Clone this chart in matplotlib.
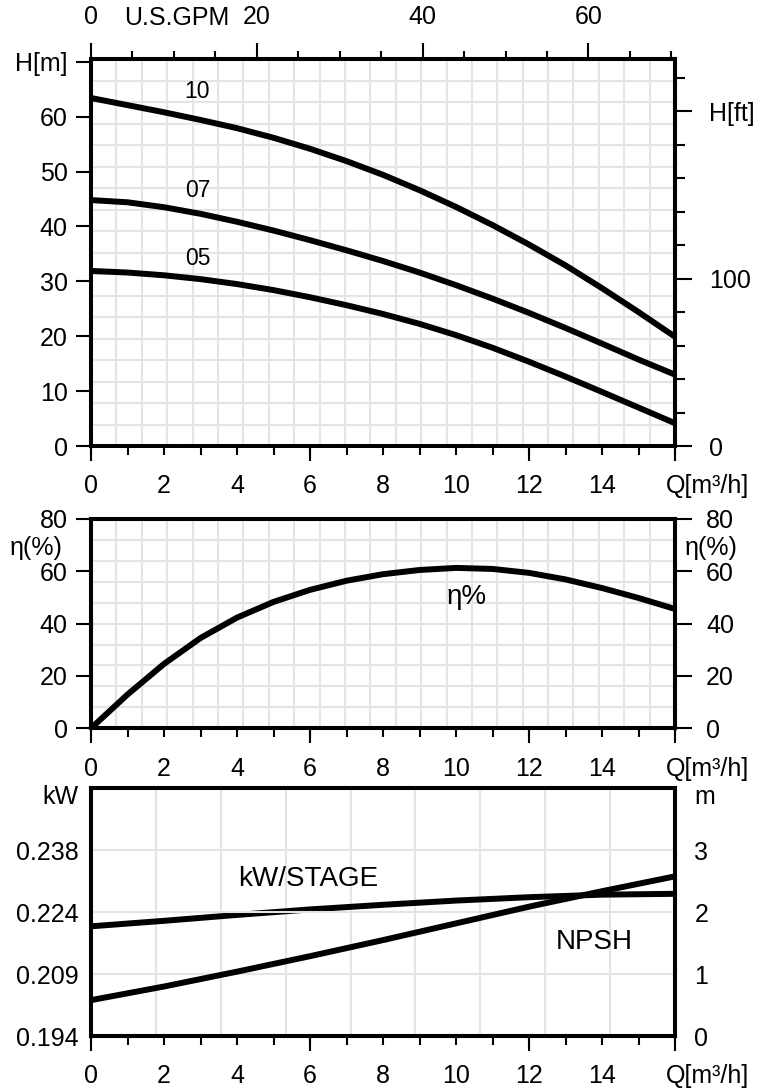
import matplotlib
matplotlib.use("Agg")
from matplotlib import pyplot
from matplotlib.transforms import ScaledTranslation, blended_transform_factory
import numpy as np

pyplot.rcParams['font.family'] = ['Liberation Sans', 'DejaVu Sans']
pyplot.rcParams['font.size'] = 18

# flow rate Q [m3/h]
q = [0, 1, 2, 3, 4, 5, 6, 7, 8, 9, 10, 11, 12, 13, 14, 15, 16]
# head curves H [m] for 10 / 07 / 05 stages
head_10 = [63.4, 62.1, 60.8, 59.4, 57.9, 56.15, 54.15, 51.9, 49.4, 46.6, 43.55, 40.25, 36.7, 32.9, 28.75, 24.4, 19.9]
head_07 = [44.8, 44.4, 43.5, 42.3, 40.85, 39.25, 37.5, 35.65, 33.7, 31.6, 29.3, 26.85, 24.25, 21.5, 18.65, 15.75, 13.0]
head_05 = [31.9, 31.6, 31.1, 30.4, 29.5, 28.4, 27.1, 25.65, 24.05, 22.25, 20.2, 17.9, 15.35, 12.65, 9.85, 7.0, 4.15]
# efficiency [%]
eff = [0, 12.9, 24.6, 34.5, 42.3, 48.3, 52.9, 56.4, 58.9, 60.5, 61.3, 60.9, 59.4, 56.9, 53.6, 49.8, 45.6]
# power per stage [kW] and NPSH [m]
q_low = [0, 2, 4, 6, 8, 10, 12, 14, 16]
power_kw = [0.2200, 0.2213, 0.2227, 0.2240, 0.2251, 0.2261, 0.2269, 0.2275, 0.2277]
npsh_m = [0.58, 0.80, 1.04, 1.29, 1.55, 1.82, 2.09, 2.34, 2.58]

kw_ticklabels = ["0.194", "0.209", "0.224", "0.238"]
kw_base = 0.194
kw_step = 0.014667
GPM_PER_M3H = 1 / 0.22712
FT_PER_M = 1 / 0.3048

q_label = "Q[m³/h]"
grid_color = "#e4e4e4"
line_w = 4.3
spine_w = 2.9
px = 0.72  # points per pixel at dpi 100


def curve(ax, x, y):
    ax.plot(x, y, color="black", lw=line_w, solid_capstyle="butt", solid_joinstyle="round")


def style_spines(ax):
    for s in ax.spines.values():
        s.set_linewidth(spine_w)


def q_axis(ax, pad):
    ax.set_xlim(0, 16)
    ax.set_xticks(q)
    ax.set_xticklabels([str(v) if v % 2 == 0 and v < 16 else "" for v in q[:-1]] + [q_label])
    ax.set_xticks([0, 6, 12, 16], minor=True)
    ax.xaxis.remove_overlapping_locs = False
    ax.tick_params(axis="x", which="major", length=9 * px, width=1.5, pad=pad)
    ax.tick_params(axis="x", which="minor", length=15 * px, width=1.5)
    lab = ax.get_xticklabels()[-1]
    lab.set_transform(lab.get_transform() + ScaledTranslation(0.32, 0, ax.figure.dpi_scale_trans))


def draw_grid(ax, nx, ny, ylim):
    for x in np.linspace(0, 16, nx + 1)[1:-1]:
        ax.axvline(x, color=grid_color, lw=1.5, zorder=0)
    for y in np.linspace(ylim[0], ylim[1], ny + 1)[1:-1]:
        ax.axhline(y, color=grid_color, lw=1.5, zorder=0)


fig = pyplot.figure(figsize=(7.65, 10.91), dpi=100)

# ---- head ----
h_top = 70.5
ax1 = fig.add_axes([0.119, 0.5912, 0.7634, 0.3547])
curve(ax1, q, head_10)
curve(ax1, q, head_07)
curve(ax1, q, head_05)
ax1.set_ylim(0, h_top)
draw_grid(ax1, 23, 18, (0, h_top))
ax1.set_yticks([0, 10, 20, 30, 40, 50, 60, 70])
ax1.set_yticklabels(["0", "10", "20", "30", "40", "50", "60", "H[m]"])
ax1.tick_params(axis="y", length=15 * px, width=1.5, pad=6)
q_axis(ax1, pad=14)
ax1.text(2.9, 64.6, "10", ha="center", va="center", fontsize=16.5)
ax1.text(2.93, 46.6, "07", ha="center", va="center", fontsize=16.5)
ax1.text(2.93, 34.1, "05", ha="center", va="center", fontsize=16.5)
style_spines(ax1)

gpm = ax1.secondary_xaxis("top", functions=(lambda v: v * GPM_PER_M3H, lambda v: v / GPM_PER_M3H))
gpm.set_xticks([0, 20, 40, 60])
gpm.set_xticks(np.arange(0, 71, 5), minor=True)
gpm.tick_params(which="major", length=16 * px, width=1.5, pad=10)
gpm.tick_params(which="minor", length=8 * px, width=1.5)
gpm.spines["top"].set_linewidth(spine_w)
ax1.annotate("U.S.GPM", xy=(10.4 / GPM_PER_M3H, 1), xycoords=("data", "axes fraction"),
             xytext=(0, 41 * px), textcoords="offset points", ha="center", va="center")

ft = ax1.secondary_yaxis("right", functions=(lambda v: v * FT_PER_M, lambda v: v / FT_PER_M))
ft.set_yticks([0, 100, 200])
ft.set_yticklabels(["0", "100", "H[ft]"])
ft.set_yticks(np.arange(0, 221, 20), minor=True)
ft.tick_params(which="major", length=17 * px, width=1.5, pad=12)
ft.tick_params(which="minor", length=10 * px, width=1.5)
ft.spines["right"].set_linewidth(spine_w)

# ---- efficiency ----
ax2 = fig.add_axes([0.119, 0.3325, 0.7634, 0.1918])
curve(ax2, q, eff)
ax2.set_ylim(0, 80)
draw_grid(ax2, 23, 10, (0, 80))
ax2.set_yticks([0, 20, 40, 60, 80])
ax2.tick_params(axis="y", length=15 * px, width=1.5, pad=6)
q_axis(ax2, pad=14)
tr = blended_transform_factory(ax2.transAxes, ax2.transData)
ax2.text(-0.048, 69, "η(%)", transform=tr, ha="right", va="center")
ax2.text(1.017, 69, "η(%)", transform=tr, ha="left", va="center")
ax2.text(10.3, 50.2, "η%", ha="center", va="center", fontsize=20)
style_spines(ax2)
ax2r = ax2.twinx()
ax2r.set_ylim(0, 80)
ax2r.set_yticks([0, 20, 40, 60, 80])
ax2r.tick_params(axis="y", length=17 * px, width=1.5, pad=10)
style_spines(ax2r)

# ---- power / NPSH ----
ax3 = fig.add_axes([0.119, 0.0504, 0.7634, 0.2269])
curve(ax3, q_low, power_kw)
ax3.set_ylim(kw_base, kw_base + 4 * kw_step)
ax3.set_yticks([kw_base + i * kw_step for i in range(4)] + [kw_base + 3.9 * kw_step])
ax3.set_yticklabels(kw_ticklabels + ["kW"])
ax3.tick_params(axis="y", length=0, pad=9)
for x in np.linspace(0, 16, 10)[1:-1]:
    ax3.axvline(x, color=grid_color, lw=1.5, zorder=0)
q_axis(ax3, pad=14)
style_spines(ax3)
ax3r = ax3.twinx()
curve(ax3r, q_low, npsh_m)
ax3r.set_ylim(0, 4)
ax3r.set_yticks([0, 1, 2, 3, 3.9])
ax3r.set_yticklabels(["0", "1", "2", "3", "m"])
ax3r.tick_params(axis="y", length=0, pad=14)
for y in [1, 2, 3]:
    ax3r.axhline(y, color=grid_color, lw=1.5, zorder=0)
ax3r.text(5.95, 2.53, "kW/STAGE", ha="center", va="center", fontsize=20)
ax3r.text(13.8, 1.52, "NPSH", ha="center", va="center", fontsize=20)
style_spines(ax3r)

pyplot.savefig("out.png", dpi=100)
